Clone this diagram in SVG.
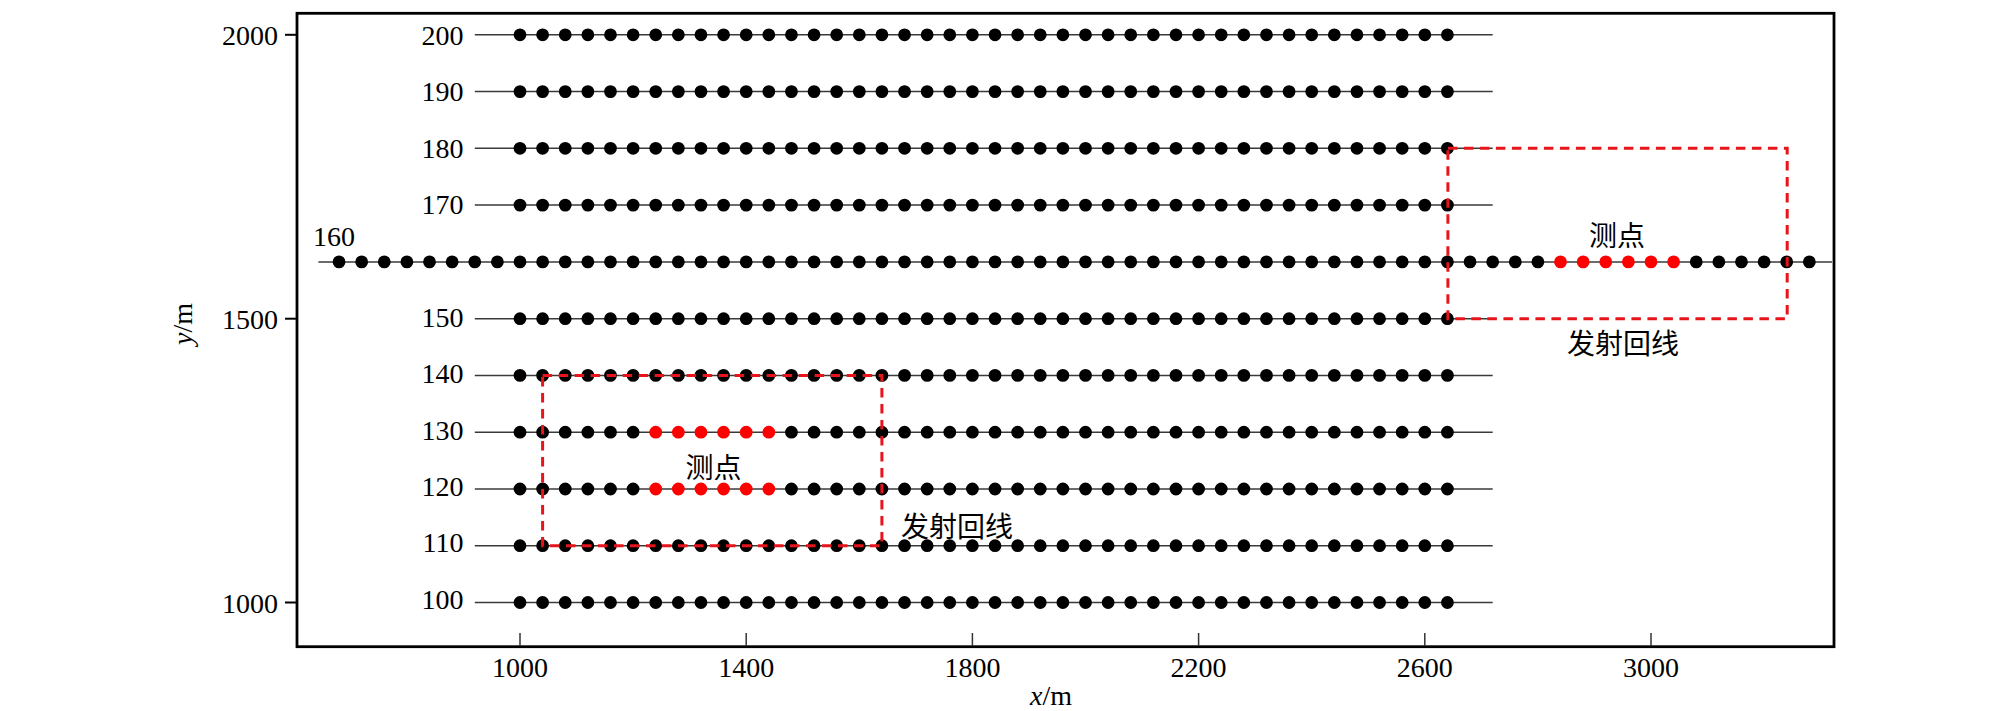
<svg xmlns="http://www.w3.org/2000/svg" width="2008" height="711" viewBox="0 0 2008 711">
<style>
.num{font-family:"Liberation Serif","Times New Roman",serif;font-size:28px;fill:#000}
.cjk{font-family:"Noto Sans CJK SC",sans-serif;font-size:28px;fill:#000}
.row{stroke:#3a3a3a;stroke-width:1.5;fill:none}
.dots{stroke:#000;stroke-width:12.8;stroke-linecap:round;stroke-dasharray:0 22.62;fill:none}
.rdots{stroke:#ff0000;stroke-width:12.8;stroke-linecap:round;stroke-dasharray:0 22.62;fill:none}
.loop{stroke:#e8141c;stroke-width:3;stroke-dasharray:9.5 6.5;fill:none}
.tick{stroke:#333;stroke-width:1.5}
.ytick{stroke:#000;stroke-width:2}
</style>
<rect width="2008" height="711" fill="#fff"/>
<g id="frame">
<rect x="297" y="13.3" width="1537" height="633.4" fill="none" stroke="#000" stroke-width="2.8"/>
<line class="ytick" x1="285" y1="34.8" x2="297" y2="34.8"/>
<line class="ytick" x1="285" y1="318.7" x2="297" y2="318.7"/>
<line class="ytick" x1="285" y1="602.5" x2="297" y2="602.5"/>
<text class="num" x="278" y="45.3" text-anchor="end">2000</text>
<text class="num" x="278" y="329" text-anchor="end">1500</text>
<text class="num" x="278" y="613" text-anchor="end">1000</text>
<line class="tick" x1="520" y1="633" x2="520" y2="646"/>
<line class="tick" x1="746.2" y1="633" x2="746.2" y2="646"/>
<line class="tick" x1="972.4" y1="633" x2="972.4" y2="646"/>
<line class="tick" x1="1198.6" y1="633" x2="1198.6" y2="646"/>
<line class="tick" x1="1424.8" y1="633" x2="1424.8" y2="646"/>
<line class="tick" x1="1651" y1="633" x2="1651" y2="646"/>
<text class="num" x="520" y="676.5" text-anchor="middle">1000</text>
<text class="num" x="746.2" y="676.5" text-anchor="middle">1400</text>
<text class="num" x="972.4" y="676.5" text-anchor="middle">1800</text>
<text class="num" x="1198.6" y="676.5" text-anchor="middle">2200</text>
<text class="num" x="1424.8" y="676.5" text-anchor="middle">2600</text>
<text class="num" x="1651" y="676.5" text-anchor="middle">3000</text>
<text class="num" x="1051" y="705" text-anchor="middle"><tspan font-style="italic">x</tspan>/m</text>
<text class="num" transform="translate(192,324) rotate(-90)" text-anchor="middle"><tspan font-style="italic">y</tspan>/m</text>
</g>
<g id="row200"><path class="row" d="M474.8 34.8H1492.7"/><path class="dots" d="M520 34.8H1447.9"/><text class="num" x="463.5" y="45" text-anchor="end">200</text></g>
<g id="row190"><path class="row" d="M474.8 91.6H1492.7"/><path class="dots" d="M520 91.6H1447.9"/><text class="num" x="463.5" y="101.4" text-anchor="end">190</text></g>
<g id="row180"><path class="row" d="M474.8 148.3H1492.7"/><path class="dots" d="M520 148.3H1447.9"/><text class="num" x="463.5" y="157.7" text-anchor="end">180</text></g>
<g id="row170"><path class="row" d="M474.8 205.1H1492.7"/><path class="dots" d="M520 205.1H1447.9"/><text class="num" x="463.5" y="214.1" text-anchor="end">170</text></g>
<g id="row160"><path class="row" d="M318.4 261.9H1832"/><path class="dots" d="M339.04 261.9H1538.4"/><path class="rdots" d="M1560.52 261.9H1674.1"/><path class="dots" d="M1696.24 261.9H1809.8"/><text class="num" x="313" y="246">160</text></g>
<g id="row150"><path class="row" d="M474.8 318.7H1492.7"/><path class="dots" d="M520 318.7H1447.9"/><text class="num" x="463.5" y="327" text-anchor="end">150</text></g>
<g id="row140"><path class="row" d="M474.8 375.4H1492.7"/><path class="dots" d="M520 375.4H1447.9"/><text class="num" x="463.5" y="383.3" text-anchor="end">140</text></g>
<g id="row130"><path class="row" d="M474.8 432.2H1492.7"/><path class="dots" d="M520 432.2H633.6"/><path class="rdots" d="M655.72 432.2H769.3"/><path class="dots" d="M791.44 432.2H1447.9"/><text class="num" x="463.5" y="439.7" text-anchor="end">130</text></g>
<g id="row120"><path class="row" d="M474.8 489H1492.7"/><path class="dots" d="M520 489H633.6"/><path class="rdots" d="M655.72 489H769.3"/><path class="dots" d="M791.44 489H1447.9"/><text class="num" x="463.5" y="496" text-anchor="end">120</text></g>
<g id="row110"><path class="row" d="M474.8 545.7H1492.7"/><path class="dots" d="M520 545.7H1447.9"/><text class="num" x="463.5" y="552.4" text-anchor="end">110</text></g>
<g id="row100"><path class="row" d="M474.8 602.5H1492.7"/><path class="dots" d="M520 602.5H1447.9"/><text class="num" x="463.5" y="608.5" text-anchor="end">100</text></g>
<g id="connectors">
<rect class="loop" x="1447.9" y="148.3" width="339.3" height="170.4"/>
<rect class="loop" x="542.6" y="375.4" width="339.3" height="170.3"/>
</g>
<g id="loop-right-labels">
<text class="cjk" x="1617" y="246" text-anchor="middle">测点</text>
<text class="cjk" x="1623" y="354" text-anchor="middle">发射回线</text>
</g>
<g id="loop-left-labels">
<text class="cjk" x="713.5" y="477.5" text-anchor="middle">测点</text>
<text class="cjk" x="957" y="537" text-anchor="middle">发射回线</text>
</g>
</svg>
